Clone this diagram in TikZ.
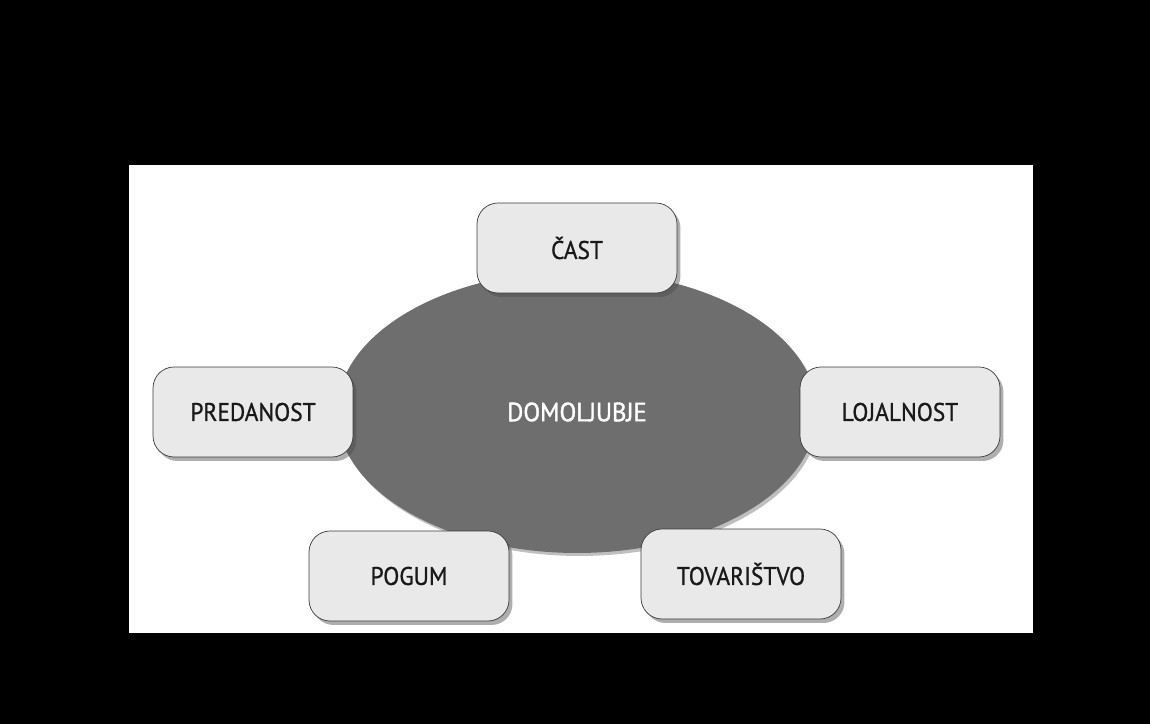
\documentclass[tikz,border=0pt]{standalone}
\usepackage{fontspec}
\setmainfont{PT Sans}
\newfontfamily\boxfont{PT Sans}[FakeStretch=0.92, FakeBold=0.9]
\newfontfamily\corefont{PT Sans}[FakeStretch=0.93, FakeBold=1.4]
\usepackage{tikz}
\usepackage{xcolor}
\usetikzlibrary{shapes.geometric,shadows}
\definecolor{boxgray}{HTML}{E9E9E9}
\definecolor{ovalgray}{HTML}{6E6E6E}
\definecolor{edgegray}{HTML}{3C3C3C}
\tikzset{
    value-box/.style = {draw=edgegray, fill=boxgray, thin, rectangle, rounded corners=0.42cm,
        minimum width=4cm, minimum height=1.8cm, text=black!90,
        font=\boxfont\fontsize{14.5}{16}\selectfont,
        drop shadow={shadow xshift=0.07cm, shadow yshift=-0.08cm, opacity=0.45, fill=black!70}},
    core-oval/.style = {ellipse, fill=ovalgray, minimum width=9.6cm, minimum height=5.64cm,
        text=white, font=\corefont\fontsize{15}{17}\selectfont,
        drop shadow={shadow xshift=0.05cm, shadow yshift=-0.06cm, opacity=0.25, fill=black}},
}

\begin{document}
\begin{tikzpicture}[x=0.02cm, y=-0.02cm]
% page and white panel
\fill[black] (0,0) rectangle (1150,724);
\fill[white] (129,165) rectangle (1033,633);

\node [core-oval] (core) at (577,412) {DOMOLJUBJE};

\node [value-box] (cast) at (577,248) {ČAST};
\node [value-box] (predanost) at (253,412) {PREDANOST};
\node [value-box] (lojalnost) at (900,412) {LOJALNOST};
\node [value-box] (pogum) at (409,576) {POGUM};
\node [value-box] (tovaristvo) at (741,574) {TOVARIŠTVO};
\end{tikzpicture}
\end{document}
